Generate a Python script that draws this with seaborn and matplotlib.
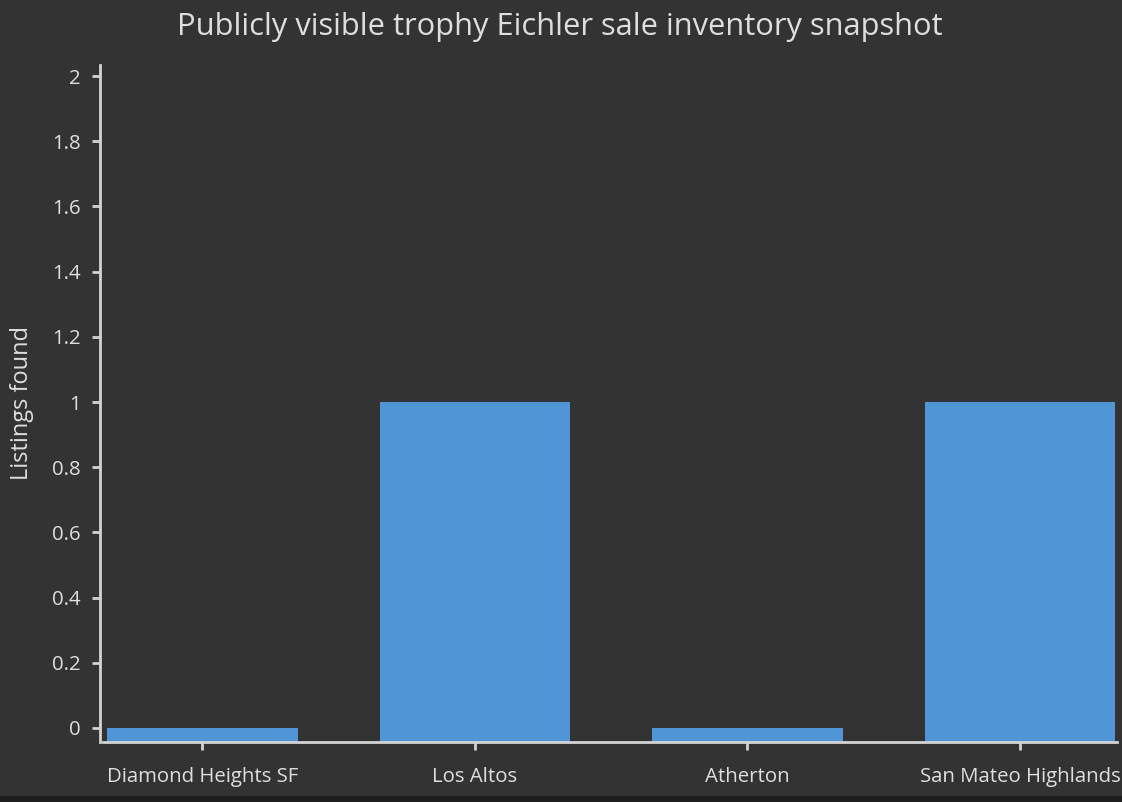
import matplotlib
matplotlib.use("Agg")
import matplotlib.pyplot as plt
import seaborn as sns
import pandas as pd
from matplotlib.patches import Rectangle

categories = ["Diamond Heights SF", "Los Altos", "Atherton", "San Mateo Highlands"]
listings = [0, 1, 0, 1]
yticks = [0, 0.2, 0.4, 0.6, 0.8, 1, 1.2, 1.4, 1.6, 1.8, 2]
ytick_labels = ["0", "0.2", "0.4", "0.6", "0.8", "1", "1.2", "1.4", "1.6", "1.8", "2"]

BG = "#333333"
FG = "#dedede"
AXC = "#d4d4d4"
BAR = "#5096d6"

sns.set_theme(style="dark")
plt.rcParams["font.family"] = ["Open Sans", "DejaVu Sans"]

fig = plt.figure(figsize=(11.22, 8.02), dpi=100, facecolor=BG)
W, H = 1122, 802
ax = fig.add_axes([100 / W, (H - 742) / H, (1117 - 100) / W, (742 - 65) / H])
ax.set_facecolor(BG)

df = pd.DataFrame({"cat": categories, "val": listings})
sns.barplot(data=df, x="cat", y="val", color=BAR, saturation=1, width=0.7, ax=ax)

ymin, ymax = -0.043, 2.034
for p in ax.patches:
    h = p.get_height()
    p.set_y(ymin)
    p.set_height(h - ymin)
    p.set_edgecolor("none")

ax.set_ylim(ymin, ymax)
ax.set_xlim(-0.376, 3.356)
ax.set_yticks(yticks)
ax.set_yticklabels(ytick_labels)
ax.grid(False)

for s in ["top", "right"]:
    ax.spines[s].set_visible(False)
for s in ["left", "bottom"]:
    ax.spines[s].set_color(AXC)
    ax.spines[s].set_linewidth(2)
ax.spines["bottom"].set_bounds(-0.365, 3.356)

ax.tick_params(axis="both", colors=AXC, labelcolor=FG, length=6, width=2,
               direction="out", labelsize=14.7, bottom=True, left=True)
ax.tick_params(axis="x", pad=12)
ax.tick_params(axis="y", pad=8)

ax.set_xlabel("")
ax.set_ylabel("Listings found", color=FG, fontsize=17, labelpad=13)
fig.text(560 / W, 1 - 27 / H, "Publicly visible trophy Eichler sale inventory snapshot",
         ha="center", va="center", color=FG, fontsize=22.2)

fig.patches.append(Rectangle((0, 0), 1, 6 / H, transform=fig.transFigure,
                             facecolor="#1e1e1e", edgecolor="none", zorder=-1))

fig.savefig("out.png", dpi=100, facecolor=BG)
